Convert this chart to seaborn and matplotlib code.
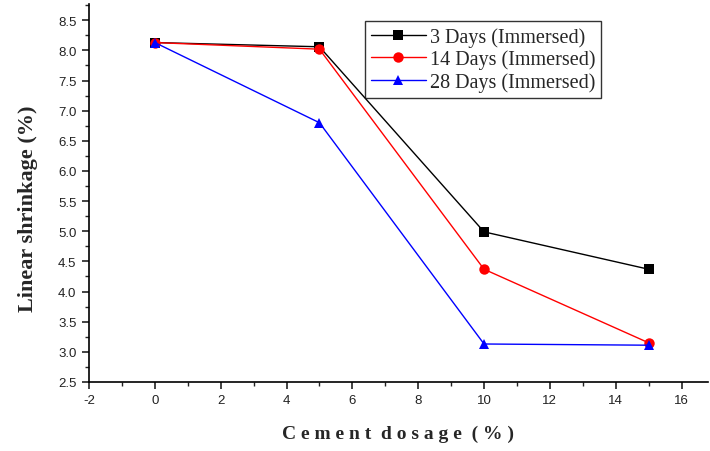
import matplotlib
matplotlib.use("Agg")
import matplotlib.pyplot as plt
from matplotlib.ticker import MultipleLocator
import pandas as pd
import seaborn as sns

# Cement dosage (%) and linear shrinkage (%) per curing period
dosage = [0, 5, 10, 15]
days_3 = [8.13, 8.06, 4.99, 4.37]
days_14 = [8.13, 8.02, 4.37, 3.15]
days_28 = [8.13, 6.80, 3.13, 3.11]
series_names = ["3 Days (Immersed)", "14 Days (Immersed)", "28 Days (Immersed)"]
x_ticks = [-2, 0, 2, 4, 6, 8, 10, 12, 14, 16]
y_ticks = [2.5, 3.0, 3.5, 4.0, 4.5, 5.0, 5.5, 6.0, 6.5, 7.0, 7.5, 8.0, 8.5]

frames = []
for name, vals in zip(series_names, [days_3, days_14, days_28]):
    frames.append(pd.DataFrame({"dosage": dosage, "shrinkage": vals, "series": name}))
df = pd.concat(frames, ignore_index=True)

sns.set_style("ticks")
plt.rcParams["font.family"] = ["Liberation Sans", "DejaVu Sans"]
plt.rcParams["xtick.direction"] = "out"
plt.rcParams["ytick.direction"] = "out"

fig = plt.figure(figsize=(7.10, 4.52), dpi=100)
ax = fig.add_axes([0.1254, 0.1527, 0.8716, 0.8363])

sns.lineplot(
    data=df, x="dosage", y="shrinkage", hue="series", style="series",
    palette=["black", "red", "blue"], markers=["s", "o", "^"], dashes=False,
    markersize=7.5, markeredgewidth=0, linewidth=1.0, ax=ax,
)

ax.set_xlim(-2, 16.8)
ax.set_ylim(2.5, 8.77)
ax.set_xticks(x_ticks)
ax.set_xticklabels([str(t) for t in x_ticks])
ax.set_yticks(y_ticks)
ax.set_yticklabels([f"{t:.1f}" for t in y_ticks])
ax.xaxis.set_minor_locator(MultipleLocator(1))
ax.yaxis.set_minor_locator(MultipleLocator(0.25))
ax.tick_params(which="major", length=5, width=1.2, labelsize=9.5, colors="#222222", pad=4)
ax.tick_params(which="minor", length=3, width=1.0, colors="#222222")
for s in ["left", "bottom"]:
    ax.spines[s].set_linewidth(1.2)
    ax.spines[s].set_color("black")
sns.despine(ax=ax)

ax.set_xlabel("C e m e n t  d o s a g e  ( % )", family="Liberation Serif",
              fontweight="bold", fontsize=14, labelpad=13)
ax.set_ylabel("Linear shrinkage (%)", family="Liberation Serif",
              fontweight="bold", fontsize=16, labelpad=14)
ax.yaxis.set_label_coords(-0.083, 0.46)

handles, labels = ax.get_legend_handles_labels()
leg = ax.legend(
    handles, labels, loc="upper left", bbox_to_anchor=(0.43, 0.982),
    frameon=True, fancybox=False, edgecolor="black", borderpad=0.3,
    labelspacing=0.15, handlelength=2.7, handletextpad=0.2,
    prop={"family": "Liberation Serif", "size": 14.5},
)
leg.get_frame().set_linewidth(1.0)

fig.savefig("out.png", dpi=100)
